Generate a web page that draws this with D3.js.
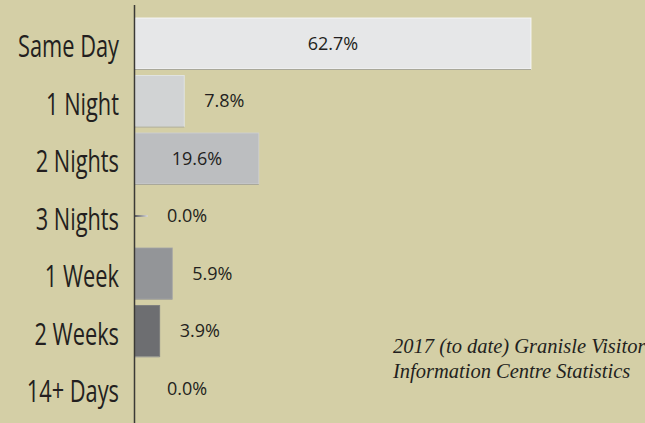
<!DOCTYPE html>
<html>
<head>
	<title></title>
	<style>
		body { margin: 0; background: #d4cfa6; }
		.cat { font-family: "Open Sans", sans-serif; font-size: 31px; fill: #231f20; }
		.val { font-family: "Open Sans", sans-serif; font-size: 18px; fill: #231f20; }
		.note { font-family: "Liberation Serif", serif; font-style: italic; font-size: 20.5px; fill: #231f20; }
	</style>
</head>
<body>
	<svg id="container" height="423" width="645"></svg>
</body>
<script src="https://d3js.org/d3.v7.min.js"></script>
<script>
	let categories = ["Same Day", "1 Night", "2 Nights", "3 Nights", "1 Week", "2 Weeks", "14+ Days"]
	let values = [62.7, 7.8, 19.6, 0.0, 5.9, 3.9, 0.0]
	let barColors = ["#e6e7e8", "#d1d3d4", "#bcbec0", "#a7a9ac", "#939598", "#6d6e71", "#58595b"]
	let noteLines = ["2017 (to date) Granisle Visitor", "Information Centre Statistics"]

	let svg = d3.select("#container")
	let data = categories.map((c, i) => ({ cat: c, value: values[i], color: barColors[i] }))

	let x = d3.scaleLinear()
		.domain([0, 62.7])
		.range([135, 531])

	let y = d3.scaleBand()
		.domain(categories)
		.range([14.75, 417.25])
		.paddingInner(0.113)
		.paddingOuter(0.0565)

	// bars
	svg.selectAll(".bar")
		.data(data)
		.enter()
		.append("rect")
		.attr("class", "bar")
		.attr("x", x(0))
		.attr("y", d => y(d.cat))
		.attr("width", d => x(d.value) - x(0))
		.attr("height", y.bandwidth())
		.attr("fill", d => d.color)
		.attr("stroke", d => d3.color(d.color).brighter(0.25))
		.attr("stroke-width", 1)
		.attr("stroke-opacity", d => d.value > 0 ? 0.8 : 0)

	// soft shadow under bars
	svg.selectAll(".shadow")
		.data(data.filter(d => d.value > 0))
		.enter()
		.append("line")
		.attr("x1", x(0))
		.attr("x2", d => x(d.value))
		.attr("y1", d => y(d.cat) + y.bandwidth() + 0.5)
		.attr("y2", d => y(d.cat) + y.bandwidth() + 0.5)
		.attr("stroke", "#a9a89a")
		.attr("stroke-width", 1)

	// small stub for the empty 3 Nights bar
	let grad = svg.append("defs").append("linearGradient").attr("id", "stub")
	grad.append("stop").attr("offset", "0%").attr("stop-color", "#5d5e61")
	grad.append("stop").attr("offset", "100%").attr("stop-color", "#d8d8d8")
	svg.append("rect")
		.attr("x", x(0))
		.attr("y", y("3 Nights") + y.bandwidth() / 2 - 1)
		.attr("width", x(2) - x(0))
		.attr("height", 2)
		.attr("fill", "url(#stub)")

	// axis line
	svg.append("line")
		.attr("x1", 134.5).attr("x2", 134.5)
		.attr("y1", 5).attr("y2", 423)
		.attr("stroke", "#3b3a36")
		.attr("stroke-width", 1.5)

	// category labels (condensed by a horizontal squeeze)
	let cats = svg.selectAll(".cat")
		.data(data)
		.enter()
		.append("text")
		.attr("class", "cat")
		.attr("text-anchor", "end")
		.text(d => d.cat)
	let squeeze = 101 / cats.filter(d => d.cat == "Same Day").node().getComputedTextLength()
	cats.attr("transform", d => `translate(119,${y(d.cat) + y.bandwidth() / 2 + 13.5}) scale(${squeeze},1)`)

	// value labels
	svg.selectAll(".val")
		.data(data)
		.enter()
		.append("text")
		.attr("class", "val")
		.attr("x", d => d.value > 15 ? (x(0) + x(d.value)) / 2 : Math.max(x(d.value), x(1.9)) + 20)
		.attr("y", d => y(d.cat) + y.bandwidth() / 2 + 6)
		.attr("text-anchor", d => d.value > 15 ? "middle" : "start")
		.text(d => d.value.toFixed(1) + "%")

	// note
	svg.selectAll(".note")
		.data(noteLines)
		.enter()
		.append("text")
		.attr("class", "note")
		.attr("x", 393)
		.attr("y", (d, i) => 353 + i * 25)
		.text(d => d)
</script>
</html>
